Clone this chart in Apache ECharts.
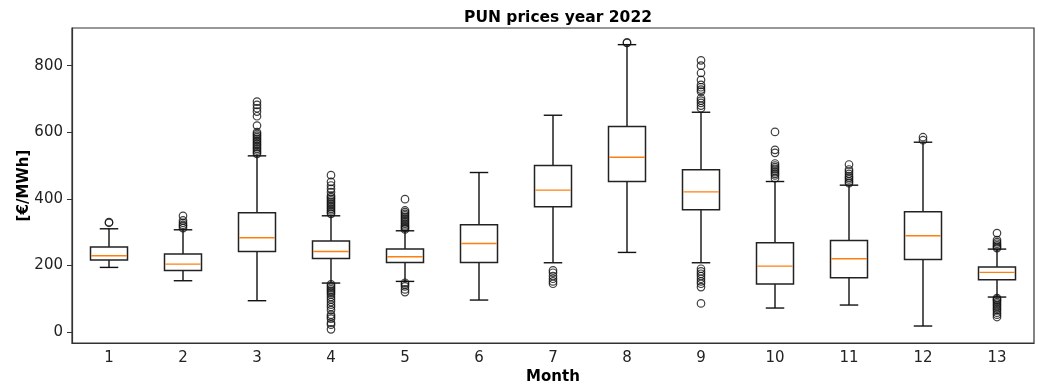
<!DOCTYPE html>
<html>
<head>
<meta charset="utf-8">
<script src="https://cdn.jsdelivr.net/npm/echarts@6/dist/echarts.min.js"></script>
<style>
html,body{margin:0;padding:0;background:#fff;}
#chart{width:1038px;height:387px;}
</style>
</head>
<body>
<div id="chart"></div>
<script>
const months = ['1','2','3','4','5','6','7','8','9','10','11','12','13'];
// [lower whisker, Q1, median, Q3, upper whisker]
const boxStats = [
  [194, 216, 229, 255, 310],
  [154, 185, 204, 234, 307],
  [94, 242, 283, 358, 529],
  [147, 221, 242, 273, 349],
  [152, 209, 226, 249, 304],
  [96, 209, 266, 322, 479],
  [208, 376, 426, 500, 651],
  [239, 452, 525, 617, 863],
  [208, 367, 421, 487, 660],
  [72, 144, 198, 268, 452],
  [81, 163, 220, 275, 441],
  [18, 218, 289, 361, 570],
  [105, 157, 179, 195, 249]
];
const outliers1 = [330, 328];
const outliers2 = [312, 318, 322, 328, 335, 349];
const outliers3 = [535, 540, 545, 550, 555, 560, 565, 570, 575, 580, 585, 590, 595, 600, 620, 648, 662, 672, 682, 692];
const outliers4 = [355, 360, 365, 370, 375, 380, 385, 390, 395, 400, 405, 410, 420, 430, 440, 451, 471,
  143, 138, 133, 128, 123, 118, 113, 105, 98, 90, 82, 75, 66, 52, 46, 40, 28, 22, 8];
const outliers5 = [308, 312, 316, 320, 325, 330, 335, 340, 345, 350, 355, 360, 365, 399, 148, 143, 137, 128, 120];
const outliers6 = [];
const outliers7 = [145, 152, 160, 168, 178, 185];
const outliers8 = [870, 868];
const outliers9 = [672, 680, 688, 695, 702, 722, 728, 735, 742, 757, 778, 800, 816,
  190, 182, 175, 168, 160, 152, 145, 135, 86];
const outliers10 = [462, 470, 475, 480, 485, 490, 495, 500, 506, 538, 547, 601];
const outliers11 = [447, 452, 458, 463, 468, 475, 482, 488, 503];
const outliers12 = [576, 585];
const outliers13 = [252, 256, 260, 265, 270, 276, 297, 102, 98, 95, 90, 85, 80, 75, 70, 65, 58, 52, 45];
const outlierLists = [outliers1, outliers2, outliers3, outliers4, outliers5, outliers6, outliers7,
  outliers8, outliers9, outliers10, outliers11, outliers12, outliers13];
const yTicks = [0, 200, 400, 600, 800];

const boxData = boxStats.map((s, i) => [i].concat(s));
const outlierData = [];
outlierLists.forEach((lst, i) => lst.forEach(v => outlierData.push([i, v])));

const FONT = 'DejaVu Sans';
const chart = echarts.init(document.getElementById('chart'), null, {renderer: 'canvas'});

function renderBox(params, api) {
  const i = api.value(0);
  const lo = api.coord([i, api.value(1)]);
  const q1 = api.coord([i, api.value(2)]);
  const med = api.coord([i, api.value(3)]);
  const q3 = api.coord([i, api.value(4)]);
  const hi = api.coord([i, api.value(5)]);
  const band = api.size([1, 0])[0];
  const hw = band * 0.25;
  const cw = band * 0.125;
  const x = lo[0];
  const ls = {stroke: '#111', lineWidth: 1.4};
  return {
    type: 'group',
    children: [
      {type: 'line', shape: {x1: x, y1: lo[1], x2: x, y2: q1[1]}, style: ls},
      {type: 'line', shape: {x1: x, y1: q3[1], x2: x, y2: hi[1]}, style: ls},
      {type: 'line', shape: {x1: x - cw, y1: lo[1], x2: x + cw, y2: lo[1]}, style: ls},
      {type: 'line', shape: {x1: x - cw, y1: hi[1], x2: x + cw, y2: hi[1]}, style: ls},
      {type: 'rect', shape: {x: x - hw, y: q3[1], width: hw * 2, height: q1[1] - q3[1]},
        style: {fill: 'none', stroke: '#222', lineWidth: 1.5}},
      {type: 'line', shape: {x1: x - hw + 0.8, y1: med[1], x2: x + hw - 0.8, y2: med[1]},
        style: {stroke: '#ff7f0e', lineWidth: 1.4}}
    ]
  };
}

chart.setOption({
  animation: false,
  backgroundColor: '#fff',
  title: {
    text: 'PUN prices year 2022',
    left: 553,
    top: 5,
    textAlign: 'center',
    textStyle: {fontFamily: FONT, fontWeight: 'bold', fontSize: 15.5, color: '#000'}
  },
  grid: {
    left: 72, right: 4, top: 28, bottom: 44,
    outerBoundsMode: 'none',
    containLabel: false,
    show: true, borderColor: '#333', borderWidth: 1.2, backgroundColor: 'transparent'
  },
  xAxis: {
    type: 'category',
    data: months,
    boundaryGap: true,
    name: 'Month',
    nameLocation: 'middle',
    nameGap: 27,
    nameMoveOverlap: false,
    nameTextStyle: {fontFamily: FONT, fontWeight: 'bold', fontSize: 15, color: '#000'},
    axisLine: {onZero: false, lineStyle: {color: '#333', width: 1.2}},
    axisTick: {alignWithLabel: true, length: 5, lineStyle: {color: '#333'}},
    axisLabel: {fontFamily: FONT, fontSize: 15, color: '#222', margin: 8},
    splitLine: {show: false}
  },
  yAxis: {
    type: 'value',
    min: -33,
    max: 913,
    name: '[€/MWh]',
    nameLocation: 'middle',
    nameGap: 40,
    nameMoveOverlap: false,
    nameTextStyle: {fontFamily: FONT, fontWeight: 'bold', fontSize: 15, color: '#000'},
    axisLine: {show: true, onZero: false, lineStyle: {color: '#333', width: 1.2}},
    axisTick: {show: true, length: 5, customValues: yTicks, lineStyle: {color: '#333'}},
    axisLabel: {fontFamily: FONT, fontSize: 15, color: '#222', margin: 9, customValues: yTicks},
    splitLine: {show: false}
  },
  series: [
    {
      type: 'custom',
      renderItem: renderBox,
      data: boxData,
      encode: {x: 0, y: [1, 2, 3, 4, 5]},
      z: 2
    },
    {
      type: 'scatter',
      data: outlierData,
      symbol: 'circle',
      symbolSize: 7.5,
      itemStyle: {color: 'rgba(0,0,0,0)', borderColor: '#111', borderWidth: 1.2},
      z: 3
    }
  ]
});
</script>
</body>
</html>
